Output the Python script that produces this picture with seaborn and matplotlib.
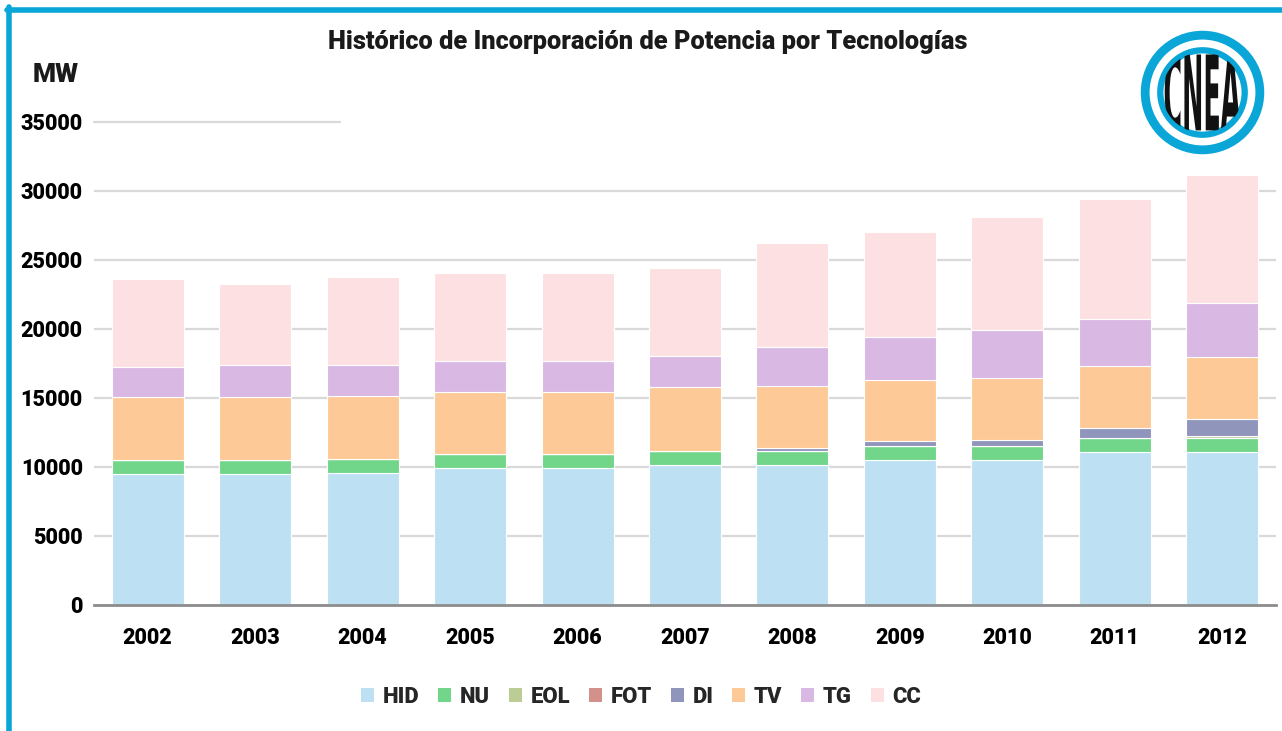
import numpy as np
import pandas as pd
import matplotlib.pyplot as plt
import seaborn as sns
from matplotlib.patches import Patch, Circle, PathPatch
from matplotlib.textpath import TextPath
from matplotlib.font_manager import FontProperties
from matplotlib.transforms import Affine2D
from matplotlib.lines import Line2D

# data (MW)
years = ['2002', '2003', '2004', '2005', '2006', '2007', '2008', '2009', '2010', '2011', '2012']
hid = [9520, 9520, 9590, 9930, 9930, 10150, 10150, 10530, 10510, 11060, 11110]
nu = [1005, 1005, 1005, 1005, 1005, 1005, 1005, 1005, 1005, 1005, 1005]
eol = [0, 0, 0, 0, 0, 0, 0, 0, 0, 30, 110]
fot = [0, 0, 0, 0, 0, 0, 0, 0, 0, 0, 0]
di = [0, 0, 0, 0, 0, 0, 240, 320, 430, 720, 1250]
tv = [4520, 4520, 4540, 4490, 4470, 4610, 4470, 4440, 4470, 4470, 4490]
tg = [2190, 2340, 2270, 2270, 2245, 2245, 2850, 3110, 3520, 3430, 3910]
cc = [6370, 5870, 6370, 6370, 6370, 6370, 7510, 7600, 8160, 8690, 9230]

series = ['HID', 'NU', 'EOL', 'FOT', 'DI', 'TV', 'TG', 'CC']
colors = ['#BDE1F3', '#72D68A', '#BBCD95', '#D4918C', '#8F95BB', '#FDCA97', '#D9B8E4', '#FDE0E2']
yticks = [0, 5000, 10000, 15000, 20000, 25000, 30000, 35000]

df = pd.DataFrame({'year': years, 'HID': hid, 'NU': nu, 'EOL': eol, 'FOT': fot,
                   'DI': di, 'TV': tv, 'TG': tg, 'CC': cc})

sns.set_style('white')
plt.rcParams['font.family'] = ['Roboto', 'DejaVu Sans']
plt.rcParams['font.weight'] = 'bold'

fig = plt.figure(figsize=(12.82, 7.31), dpi=100)
ax = fig.add_axes([0.0733, 0.1724, 0.922, 0.6611])

bottom = np.zeros(len(years))
for name, col in zip(series, colors):
    sns.barplot(data=df, x='year', y=name, bottom=bottom, color=col, saturation=1,
                width=0.67, edgecolor='white', linewidth=0.8, ax=ax, zorder=3)
    bottom = bottom + df[name].values

ax.set_ylim(0, 35000)
ax.set_xlim(-0.5, len(years) - 0.5)
ax.set_yticks(yticks)
ax.set_xlabel('')
ax.set_ylabel('')
for v in yticks[1:-1]:
    ax.axhline(v, color='#D9D9D9', lw=1.6, zorder=0)
ax.axhline(35000, xmax=0.208, color='#D9D9D9', lw=1.6, zorder=0, clip_on=False)

for s in ['top', 'right', 'left']:
    ax.spines[s].set_visible(False)
ax.spines['bottom'].set_color('#8C8C8C')
ax.spines['bottom'].set_linewidth(2)
ax.spines['bottom'].set_zorder(4)
ax.tick_params(axis='both', length=0, labelsize=15.5)
ax.tick_params(axis='y', pad=8)
ax.tick_params(axis='x', pad=15.5)
for lab in ax.get_xticklabels() + ax.get_yticklabels():
    lab.set_fontweight('heavy')
    lab.set_color('#000000')

fig.text(648 / 1282, 1 - 42 / 731, 'Histórico de Incorporación de Potencia por Tecnologías',
         ha='center', va='center', fontsize=18.3, fontweight='heavy', color='#1a1a1a')
fig.text(56 / 1282, 1 - 75 / 731, 'MW', ha='center', va='center',
         fontsize=19, fontweight='heavy', color='#1a1a1a')

handles = [Patch(facecolor=c, edgecolor='none', label=s) for s, c in zip(series, colors)]
fig.legend(handles=handles, loc='center', bbox_to_anchor=(641 / 1282, 1 - 697 / 731),
           ncol=8, frameon=False, handlelength=0.6, handleheight=0.6,
           handletextpad=0.4, columnspacing=0.85, prop={'weight': 'heavy', 'size': 15.8})

# frame lines
blue = '#0AA6D8'
fig.add_artist(Line2D([7 / 1282, 1], [1 - 9.5 / 731, 1 - 9.5 / 731], color=blue, lw=4))
fig.add_artist(Line2D([8.5 / 1282, 8.5 / 1282], [0, 1 - 7 / 731], color=blue, lw=4))

# CNEA logo
lax = fig.add_axes([1139.5 / 1282, 1 - 155.5 / 731, 126 / 1282, 126 / 731])
lax.set_xlim(-1, 1)
lax.set_ylim(-1, 1)
lax.set_aspect('equal')
lax.axis('off')
for r, c in [(0.98, blue), (0.84, 'white'), (0.72, blue), (0.62, 'white')]:
    lax.add_patch(Circle((0, 0), r, color=c, lw=0))
tp = TextPath((0, 0), 'CNEA', size=1, prop=FontProperties(family='DejaVu Sans', weight='bold'))
ext = tp.get_extents()
tr = (Affine2D().translate(-ext.x0 - ext.width / 2, -ext.y0 - ext.height / 2)
      .scale(1.2 / ext.width, 1.25 / ext.height))
letters = PathPatch(tr.transform_path(tp), color='#111111', lw=0)
lax.add_patch(letters)
letters.set_clip_path(Circle((0, 0), 0.64, transform=lax.transData))

fig.savefig('out.png', dpi=100)
